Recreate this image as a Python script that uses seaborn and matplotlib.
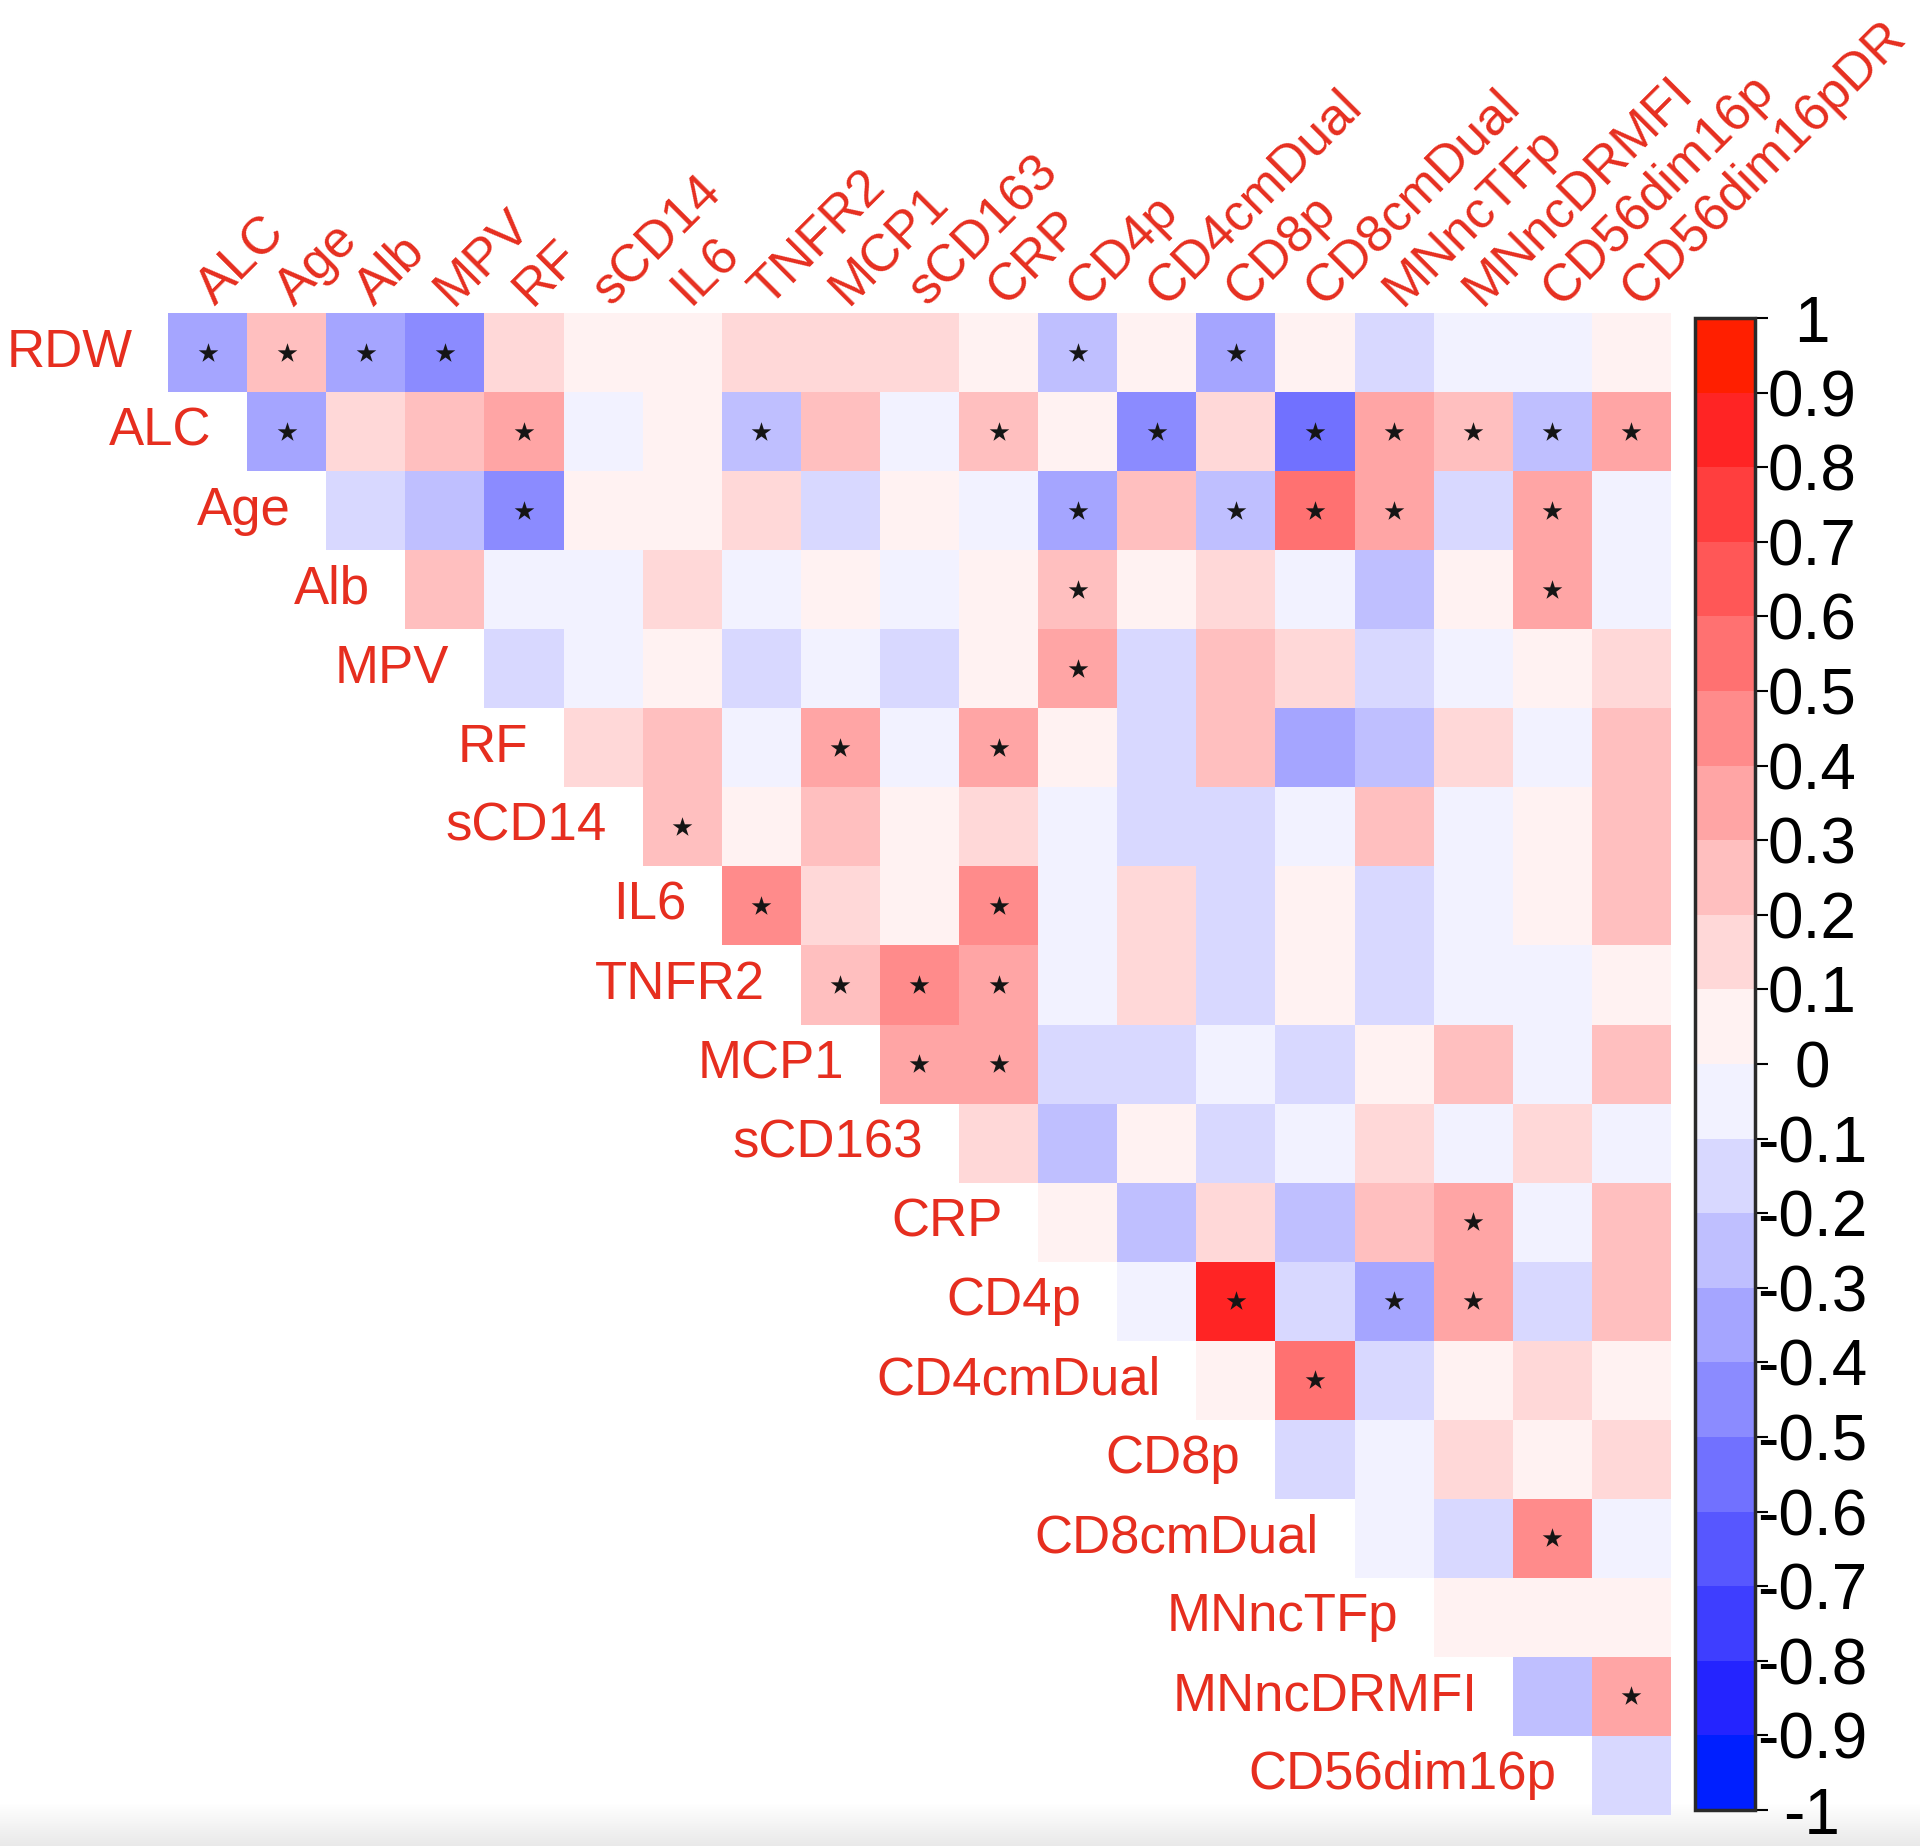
import numpy as np
import pandas as pd
import seaborn as sns
import matplotlib.pyplot as plt
from matplotlib.colors import LinearSegmentedColormap

row_labels = ['RDW', 'ALC', 'Age', 'Alb', 'MPV', 'RF', 'sCD14', 'IL6', 'TNFR2', 'MCP1',
              'sCD163', 'CRP', 'CD4p', 'CD4cmDual', 'CD8p', 'CD8cmDual', 'MNncTFp',
              'MNncDRMFI', 'CD56dim16p']
col_labels = row_labels[1:] + ['CD56dim16pDR']

# upper triangle, each row starts at its diagonal column
corr_rows = [
    [-0.35, 0.25, -0.35, -0.45, 0.15, 0.05, 0.05, 0.15, 0.15, 0.15, 0.05, -0.25, 0.05, -0.35, 0.05, -0.15, -0.05, -0.05, 0.05],
    [-0.35, 0.15, 0.25, 0.35, -0.05, 0.05, -0.25, 0.25, -0.05, 0.25, 0.05, -0.45, 0.15, -0.55, 0.35, 0.25, -0.25, 0.38],
    [-0.15, -0.25, -0.45, 0.05, 0.05, 0.15, -0.15, 0.05, -0.05, -0.35, 0.25, -0.25, 0.55, 0.35, -0.15, 0.35, -0.05],
    [0.25, -0.05, -0.05, 0.15, -0.05, 0.05, -0.05, 0.05, 0.28, 0.05, 0.15, -0.05, -0.25, 0.05, 0.35, -0.05],
    [-0.15, -0.05, 0.05, -0.15, -0.05, -0.15, 0.05, 0.38, -0.15, 0.25, 0.15, -0.15, -0.05, 0.05, 0.15],
    [0.15, 0.25, -0.05, 0.35, -0.05, 0.35, 0.05, -0.15, 0.25, -0.35, -0.25, 0.15, -0.05, 0.25],
    [0.25, 0.05, 0.25, 0.05, 0.15, -0.05, -0.15, -0.15, -0.05, 0.25, -0.05, 0.05, 0.25],
    [0.45, 0.15, 0.05, 0.45, -0.05, 0.15, -0.15, 0.05, -0.15, -0.05, 0.05, 0.25],
    [0.25, 0.45, 0.35, -0.05, 0.15, -0.15, 0.05, -0.15, -0.05, -0.05, 0.05],
    [0.35, 0.35, -0.15, -0.15, -0.05, -0.15, 0.05, 0.25, -0.05, 0.25],
    [0.15, -0.25, 0.05, -0.15, -0.05, 0.15, -0.05, 0.15, -0.05],
    [0.05, -0.25, 0.15, -0.25, 0.25, 0.35, -0.05, 0.25],
    [-0.05, 0.82, -0.15, -0.35, 0.35, -0.15, 0.25],
    [0.05, 0.55, -0.15, 0.05, 0.15, 0.05],
    [-0.15, -0.05, 0.15, 0.05, 0.15],
    [-0.05, -0.15, 0.45, -0.05],
    [0.05, 0.05, 0.05],
    [-0.25, 0.35],
    [-0.15],
]

# significant pairs (star) per row
sig_cols = [
    ['ALC', 'Age', 'Alb', 'MPV', 'CD4p', 'CD8p'],
    ['Age', 'RF', 'TNFR2', 'CRP', 'CD4cmDual', 'CD8cmDual', 'MNncTFp', 'MNncDRMFI', 'CD56dim16p', 'CD56dim16pDR'],
    ['RF', 'CD4p', 'CD8p', 'CD8cmDual', 'MNncTFp', 'CD56dim16p'],
    ['CD4p', 'CD56dim16p'],
    ['CD4p'],
    ['MCP1', 'CRP'],
    ['IL6'],
    ['TNFR2', 'CRP'],
    ['MCP1', 'sCD163', 'CRP'],
    ['sCD163', 'CRP'],
    [],
    ['MNncDRMFI'],
    ['CD8p', 'MNncTFp', 'MNncDRMFI'],
    ['CD8cmDual'],
    [],
    ['CD56dim16p'],
    [],
    ['CD56dim16pDR'],
    [],
]

cbar_ticks = [1, 0.9, 0.8, 0.7, 0.6, 0.5, 0.4, 0.3, 0.2, 0.1, 0,
              -0.1, -0.2, -0.3, -0.4, -0.5, -0.6, -0.7, -0.8, -0.9, -1]

n = len(row_labels)
mat = np.full((n, n), np.nan)
for i, vals in enumerate(corr_rows):
    mat[i, i:i + len(vals)] = vals
df = pd.DataFrame(mat, index=row_labels, columns=col_labels)

sns.set_theme(style='white')
plt.rcParams['font.family'] = ['Liberation Sans', 'DejaVu Sans']

# 20-step blue-white-red, pinkish in the middle, orange-red / azure at the ends
cmap = LinearSegmentedColormap.from_list('bwr20', [
    (0.0, (0.0, 0.12, 1.0)),
    (1 / 19, (0.14, 0.14, 1.0)),
    (0.5, (1.0, 1.0, 1.0)),
    (18 / 19, (1.0, 0.14, 0.14)),
    (1.0, (1.0, 0.12, 0.0)),
], N=20)
lab_red = '#E62E1F'

fig = plt.figure(figsize=(19.2, 18.46), dpi=100, facecolor='white')

# faint grey band at the bottom of the screenshot
bg = fig.add_axes([0, 0, 1, 0.023], zorder=-5)
bg.imshow(np.linspace(0, 1, 60)[:, None], aspect='auto',
          cmap=LinearSegmentedColormap.from_list('g', ['white', '#E9E9E9']))
bg.axis('off')

ax = fig.add_axes([0.0875, 0.0168, 0.7828, 0.8136])
cax = fig.add_axes([0.8828, 0.0195, 0.0313, 0.8082])
sns.heatmap(df, mask=df.isna(), cmap=cmap, vmin=-1, vmax=1, cbar_ax=cax,
            xticklabels=False, yticklabels=False, ax=ax)
ax.patch.set_alpha(0)

xs, ys = [], []
for i, cols in enumerate(sig_cols):
    for c in cols:
        xs.append(col_labels.index(c) + 0.5)
        ys.append(i + 0.5)
ax.scatter(xs, ys, marker='*', s=220, color='#151515', linewidths=0, zorder=3)
ax.set(xlim=(0, n), ylim=(n, 0), xlabel='', ylabel='')

for i, lab in enumerate(row_labels):
    ax.text(i - 0.45, i + 0.5, lab, ha='right', va='center', fontsize=38, color=lab_red)
for j, lab in enumerate(col_labels):
    ax.text(j + 0.6, -0.08, lab, rotation=45, rotation_mode='anchor',
            ha='left', va='baseline', fontsize=37.5, color=lab_red)

cbar = ax.collections[0].colorbar
cbar.set_ticks(cbar_ticks)
cbar.ax.set_yticklabels([f'{t:g}' for t in cbar_ticks], ha='center')
cbar.ax.tick_params(right=True, length=9, width=1.5, direction='out', labelsize=46,
                    pad=32, colors='black')
cbar.outline.set_linewidth(2.5)
cbar.outline.set_edgecolor('#2a2a2a')

fig.savefig('out.png', dpi=100)
